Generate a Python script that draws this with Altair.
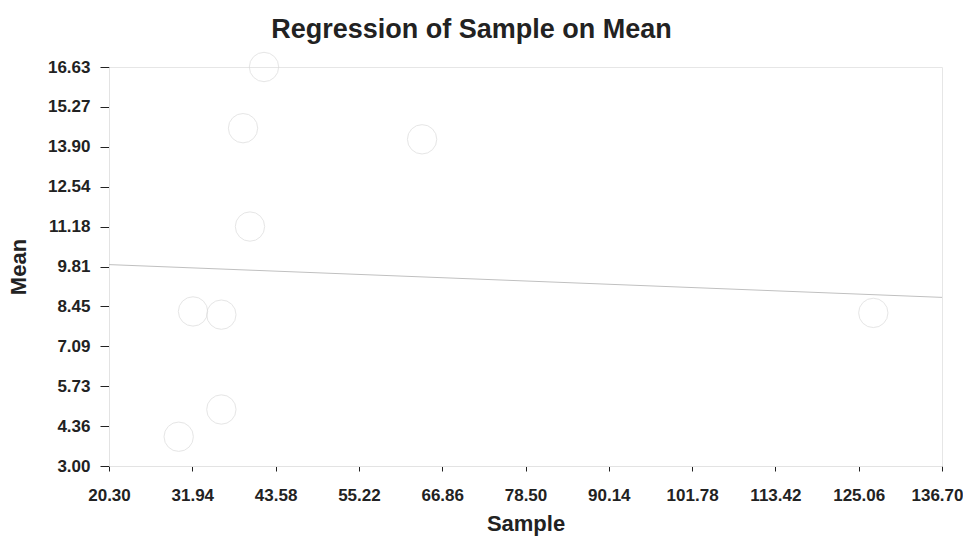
import altair as alt
import pandas as pd

sample = [41.96, 39.03, 40.00, 64.05, 32.04, 36.00, 36.00, 30.04, 127.10]
mean = [16.63, 14.54, 11.18, 14.16, 8.28, 8.17, 4.93, 4.00, 8.23]

# Fitted line end points
fit_x = [20.30, 136.70]
fit_y = [9.88, 8.76]

x_ticks = [20.30, 31.94, 43.58, 55.22, 66.86, 78.50, 90.14, 101.78, 113.42, 125.06, 136.70]
y_ticks = [3.00, 4.36, 5.73, 7.09, 8.45, 9.81, 11.18, 12.54, 13.90, 15.27, 16.63]

pts = pd.DataFrame({"Sample": sample, "Mean": mean})
fit = pd.DataFrame({"Sample": fit_x, "Mean": fit_y})

FONT = "Liberation Sans"
LAST_X = x_ticks[-1] - 0.001

xscale = alt.Scale(domain=[x_ticks[0], x_ticks[-1]], nice=False, zero=False)
yscale = alt.Scale(domain=[y_ticks[0], y_ticks[-1]], nice=False, zero=False)

xaxis = alt.Axis(values=x_ticks, tickCount=len(x_ticks), format=".2f", title="Sample", grid=False,
                 labelFont=FONT, labelFontSize=17, labelFontWeight="bold", labelColor="#222",
                 labelAlign={"expr": f"datum.value > {LAST_X} ? 'right' : 'center'"},
                 labelOffset={"expr": f"datum.value > {LAST_X} ? 21 : 0"},
                 titleFont=FONT, titleFontSize=22, titleFontWeight="bold", titleColor="#222",
                 tickSize=5, tickColor="#222", domainColor="#e3e3e3",
                 labelPadding=16, titlePadding=10, labelFlush=False, labelOverlap=False)
yaxis = alt.Axis(values=y_ticks, tickCount=len(y_ticks), format=".2f", title="Mean", grid=False,
                 labelFont=FONT, labelFontSize=17, labelFontWeight="bold", labelColor="#222",
                 titleFont=FONT, titleFontSize=22, titleFontWeight="bold", titleColor="#222",
                 tickSize=9, tickColor="#222", domainColor="#e3e3e3",
                 labelPadding=10, titlePadding=17, labelFlush=False, labelOverlap=False)

line = alt.Chart(fit).mark_line(color="#c0c0c0", strokeWidth=1).encode(
    x=alt.X("Sample:Q", scale=xscale, axis=xaxis),
    y=alt.Y("Mean:Q", scale=yscale, axis=yaxis),
)

points = alt.Chart(pts).mark_point(
    shape="circle", size=860, filled=False, stroke="#dcdcdc", strokeWidth=1, clip=False
).encode(
    x=alt.X("Sample:Q", scale=xscale, axis=xaxis),
    y=alt.Y("Mean:Q", scale=yscale, axis=yaxis),
)

chart = alt.layer(line, points).properties(
    width=833,
    height=399,
    padding={"left": 101, "top": 59, "right": 21, "bottom": 70},
    autosize="none",
    title=alt.TitleParams("Regression of Sample on Mean", font=FONT, fontSize=27,
                          fontWeight="bold", color="#222", anchor="middle", dx=-54, offset=6),
).configure_view(stroke="#e6e6e6", strokeWidth=1)

chart.save("out.html", embed_options={"renderer": "svg", "actions": False})
